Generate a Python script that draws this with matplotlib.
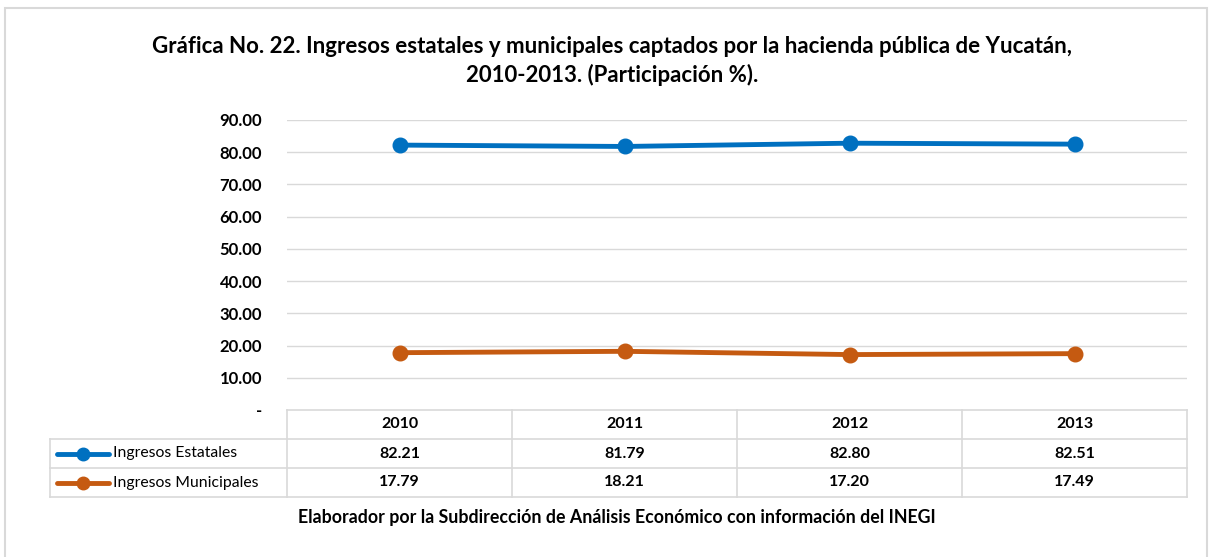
import numpy as np
import matplotlib.pyplot as plt
from matplotlib.patches import Rectangle
from matplotlib.lines import Line2D

#  Data
YEARS = ["2010", "2011", "2012", "2013"]
ESTATALES = [82.21, 81.79, 82.80, 82.51]
MUNICIPALES = [17.79, 18.21, 17.20, 17.49]
SERIES_NAMES = ["Ingresos Estatales", "Ingresos Municipales"]
Y_TICKS = [0, 10, 20, 30, 40, 50, 60, 70, 80, 90]

TITLE = ("Gráfica No. 22. Ingresos estatales y municipales captados por la hacienda pública de Yucatán,\n"
         "2010-2013. (Participación %).")
NOTE = "Elaborador por la Subdirección de Análisis Económico con información del INEGI"

BLUE = "#0070C0"
ORANGE = "#C55A11"
GRID = "#d9d9d9"
FONT = "Lato"

W, H = 1212, 557
plt.rcParams["font.family"] = [FONT, "DejaVu Sans"]

fig = plt.figure(figsize=(W / 100, H / 100), dpi=100)

# outer frame
fig.patches.append(Rectangle((5 / W, -0.01), 1202 / W, (H - 8) / H + 0.01,
                             transform=fig.transFigure, fill=False,
                             edgecolor=GRID, linewidth=1.5))

# main plot area (pixel box 287..1187 x 120..410)
ax = fig.add_axes([287 / W, (H - 410) / H, 900 / W, 290 / H])
x = np.arange(len(YEARS)) + 0.5
series = [ESTATALES, MUNICIPALES]
colors = [BLUE, ORANGE]
for vals, c in zip(series, colors):
    ax.plot(x, vals, color=c, linewidth=3.5, marker="o", markersize=10.5,
            solid_capstyle="round")

ax.set_xlim(0, len(YEARS))
ax.set_ylim(0, 90)
ax.set_yticks(Y_TICKS)
ax.set_yticklabels(["-" if t == 0 else f"{t:.2f}" for t in Y_TICKS],
                   fontsize=12, fontweight="bold")
ax.tick_params(axis="y", length=0, pad=18)
ax.set_xticks([])
for t in Y_TICKS[1:]:
    ax.axhline(t, color=GRID, linewidth=1, zorder=0)
for s in ax.spines.values():
    s.set_visible(False)

fig.text(612 / W, 1 - 61 / H, TITLE, ha="center", va="center",
         fontsize=16, fontweight="bold", linespacing=1.35)

# data table under the plot (pixel box 50..1187 x 410..497)
lab_w = 237 / 225
tab = fig.add_axes([50 / W, (H - 497) / H, 1137 / W, 87 / H])
tab.set_xlim(-lab_w, len(YEARS))
tab.set_ylim(3, 0)
tab.axis("off")
lk = dict(color=GRID, linewidth=1.2, clip_on=False)
# horizontal lines
tab.plot([0, len(YEARS)], [0, 0], **lk)
for r in (1, 2, 3):
    tab.plot([-lab_w, len(YEARS)], [r, r], **lk)
# vertical lines
tab.plot([-lab_w, -lab_w], [1, 3], **lk)
for c in range(len(YEARS) + 1):
    tab.plot([c, c], [0, 3], **lk)

for i, yr in enumerate(YEARS):
    tab.text(i + 0.5, 0.5, yr, ha="center", va="center",
             fontsize=11.5, fontweight="bold")
for r, (vals, name, c) in enumerate(zip(series, SERIES_NAMES, colors), start=1):
    for i, v in enumerate(vals):
        tab.text(i + 0.5, r + 0.5, f"{v:.2f}", ha="center", va="center",
                 fontsize=11.5, fontweight="bold")
    tab.add_line(Line2D([-1.022, -0.79], [r + 0.5, r + 0.5], color=c,
                        linewidth=3.5, solid_capstyle="round"))
    tab.plot([-0.905], [r + 0.5], marker="o", markersize=9, color=c)
    tab.text(-0.775, r + 0.5, name, ha="left", va="center", fontsize=11.3)

fig.text(617 / W, 1 - 518 / H, NOTE, ha="center", va="center",
         fontsize=12.8, fontweight="bold")

fig.savefig("out.png", dpi=100)
